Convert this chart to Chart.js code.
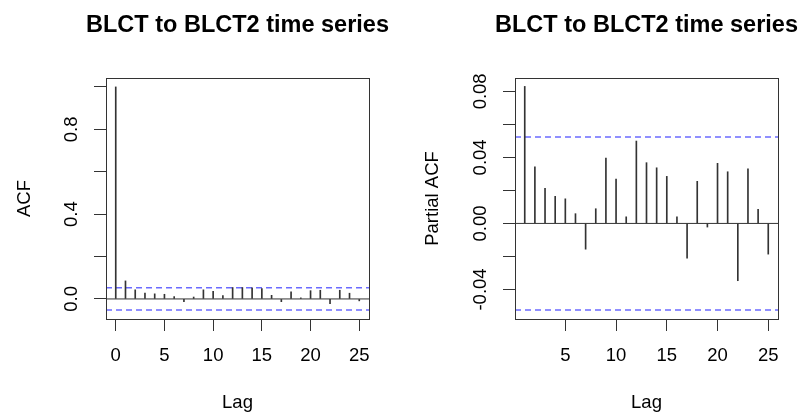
<!DOCTYPE html>
<html>
<head>
<meta charset="utf-8">
<script src="https://cdn.jsdelivr.net/npm/chart.js@4.4.0/dist/chart.umd.min.js"></script>
<style>
  html, body { margin: 0; padding: 0; background: #fff; }
  .wrap { display: flex; width: 799px; height: 414px; }
  canvas { display: block; }
</style>
</head>
<body>
<div class="wrap">
  <canvas id="acfChart" width="400" height="414"></canvas>
  <canvas id="pacfChart" width="399" height="414"></canvas>
</div>
<script>
const chartTitle = 'BLCT to BLCT2 time series';

const acfLags = [0, 1, 2, 3, 4, 5, 6, 7, 8, 9, 10, 11, 12, 13, 14, 15, 16, 17, 18, 19, 20, 21, 22, 23, 24, 25];
const acfValues = [1.000, 0.085, 0.043, 0.028, 0.024, 0.022, 0.011, -0.013, 0.009, 0.043, 0.036, 0.016, 0.054,
  0.054, 0.052, 0.049, 0.017, -0.013, 0.033, 0.005, 0.039, 0.041, -0.022, 0.041, 0.027, -0.009];

const pacfLags = [1, 2, 3, 4, 5, 6, 7, 8, 9, 10, 11, 12, 13, 14, 15, 16, 17, 18, 19, 20, 21, 22, 23, 24, 25];
const pacfValues = [0.0830, 0.0343, 0.0212, 0.0164, 0.0149, 0.0059, -0.0156, 0.0089, 0.0396, 0.0269, 0.0040,
  0.0499, 0.0368, 0.0337, 0.0285, 0.0040, -0.0210, 0.0255, -0.0022, 0.0364, 0.0313, -0.0347, 0.0331, 0.0085, -0.0186];

const confLimit = 0.0524;

const acfXTicks = [0, 5, 10, 15, 20, 25];
const acfYTicks = [0, 0.2, 0.4, 0.6, 0.8, 1.0];
const acfYLabelValues = [0, 0.4, 0.8];
const acfYLabelText = ['0.0', '0.4', '0.8'];

const pacfXTicks = [5, 10, 15, 20, 25];
const pacfYTicks = [-0.04, -0.02, 0, 0.02, 0.04, 0.06, 0.08];
const pacfYLabelValues = [-0.04, 0, 0.04, 0.08];
const pacfYLabelText = ['-0.04', '0.00', '0.04', '0.08'];

const fontFamily = '"Liberation Sans", Arial, Helvetica, sans-serif';
const inkColor = '#333';
const ciColor = '#6b6bff';

// title, box and upright y labels the way R draws them
const rPlotDecor = {
  id: 'rPlotDecor',
  afterDraw(chart, args, opts) {
    const { ctx, chartArea } = chart;
    const yScale = chart.scales.y;
    ctx.save();

    ctx.strokeStyle = inkColor;
    ctx.lineWidth = 1;
    ctx.strokeRect(Math.round(chartArea.left) + 0.5, Math.round(chartArea.top) + 0.5,
      Math.round(chartArea.width), Math.round(chartArea.height));

    ctx.fillStyle = '#000';
    ctx.font = `bold 23.5px ${fontFamily}`;
    ctx.textAlign = 'center';
    ctx.textBaseline = 'middle';
    ctx.fillText(opts.title, (chartArea.left + chartArea.right) / 2, 26);

    ctx.font = `18.5px ${fontFamily}`;
    opts.labelValues.forEach((value, i) => {
      const y = yScale.getPixelForValue(value);
      ctx.save();
      ctx.translate(chartArea.left - 34.5, y);
      ctx.rotate(-Math.PI / 2);
      ctx.fillText(opts.labelText[i], 0, 0);
      ctx.restore();
    });

    ctx.restore();
  }
};

function refLine(value, xMin, xMax, color, dash) {
  return {
    type: 'line',
    data: [{ x: xMin, y: value }, { x: xMax, y: value }],
    borderColor: color,
    borderWidth: dash ? 1.5 : 1,
    borderDash: dash || [],
    pointRadius: 0,
    fill: false,
    order: 2
  };
}

function makeChart(canvas, cfg) {
  const tickFont = { family: fontFamily, size: 18.5 };
  return new Chart(canvas, {
    type: 'bar',
    data: {
      datasets: [
        {
          data: cfg.lags.map((lag, i) => ({ x: lag, y: cfg.values[i] })),
          backgroundColor: inkColor,
          barThickness: 1,
          order: 1
        },
        refLine(0, cfg.xMin, cfg.xMax, inkColor, null),
        refLine(confLimit, cfg.xMin, cfg.xMax, ciColor, [6, 4]),
        refLine(-confLimit, cfg.xMin, cfg.xMax, ciColor, [6, 4])
      ]
    },
    options: {
      responsive: false,
      animation: false,
      layout: { padding: { left: 0, right: cfg.padRight, top: 78, bottom: 0 } },
      plugins: {
        legend: { display: false },
        tooltip: { enabled: false },
        rPlotDecor: { title: chartTitle, labelValues: cfg.labelValues, labelText: cfg.labelText }
      },
      scales: {
        x: {
          type: 'linear',
          min: cfg.xMin,
          max: cfg.xMax,
          offset: false,
          afterBuildTicks: (scale) => { scale.ticks = cfg.xTicks.map((v) => ({ value: v })); },
          afterFit: (scale) => { scale.height = 95; },
          ticks: { color: '#000', font: tickFont, padding: 14, maxRotation: 0 },
          grid: { offset: false, drawOnChartArea: false, drawTicks: true, tickLength: 12, color: inkColor },
          border: { display: false },
          title: { display: true, text: 'Lag', color: '#000', font: tickFont, padding: { top: 0, bottom: 0 } }
        },
        y: {
          min: cfg.yMin,
          max: cfg.yMax,
          afterBuildTicks: (scale) => { scale.ticks = cfg.yTicks.map((v) => ({ value: v })); },
          afterFit: (scale) => { scale.width = cfg.yWidth; },
          ticks: { display: false },
          grid: { drawOnChartArea: false, drawTicks: true, tickLength: 12, color: inkColor },
          border: { display: false },
          title: { display: true, text: cfg.yTitle, color: '#000', font: tickFont, padding: { top: cfg.yTitlePad, bottom: 0 } }
        }
      }
    },
    plugins: [rPlotDecor]
  });
}

makeChart(document.querySelector('#acfChart'), {
  lags: acfLags,
  values: acfValues,
  xMin: -1,
  xMax: 26,
  yMin: -0.0946,
  yMax: 1.0421,
  xTicks: acfXTicks,
  yTicks: acfYTicks,
  labelValues: acfYLabelValues,
  labelText: acfYLabelText,
  yTitle: 'ACF',
  yTitlePad: 14,
  yWidth: 106,
  padRight: 31
});

makeChart(document.querySelector('#pacfChart'), {
  lags: pacfLags,
  values: pacfValues,
  xMin: 0.04,
  xMax: 25.96,
  yMin: -0.0579,
  yMax: 0.0881,
  xTicks: pacfXTicks,
  yTicks: pacfYTicks,
  labelValues: pacfYLabelValues,
  labelText: pacfYLabelText,
  yTitle: 'Partial ACF',
  yTitlePad: 22,
  yWidth: 115,
  padRight: 21
});
</script>
</body>
</html>
